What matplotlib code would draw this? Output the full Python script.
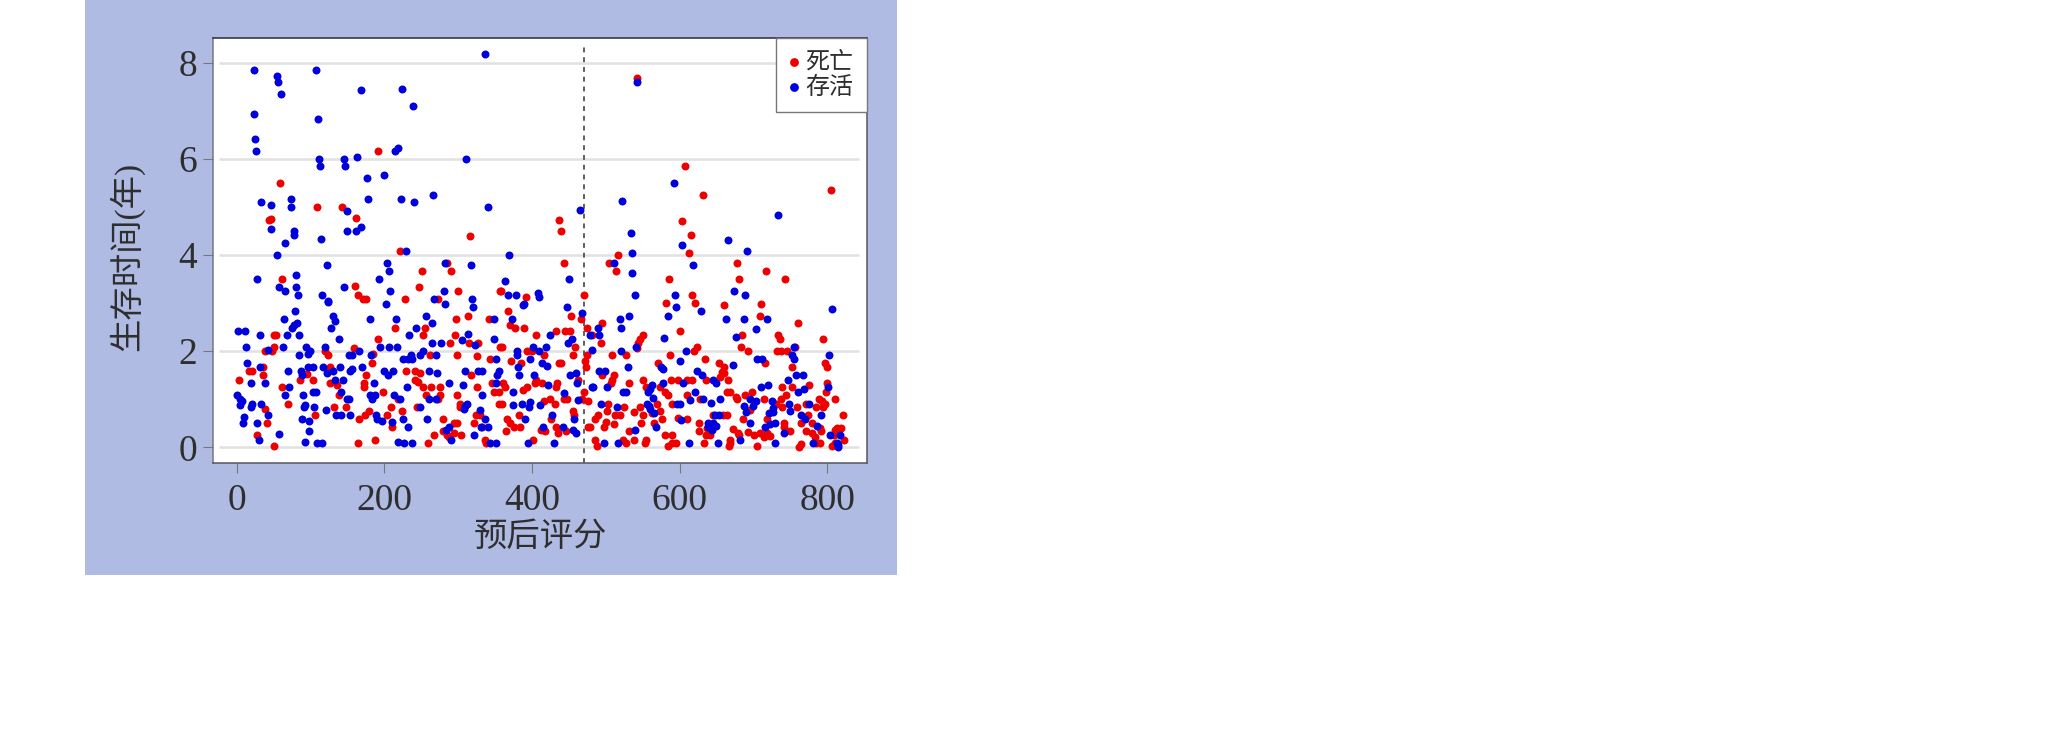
import matplotlib
matplotlib.use("Agg")
import matplotlib.pyplot as plt
from matplotlib.patches import Rectangle

plt.rcParams['font.family'] = ['Liberation Serif', 'Noto Sans CJK SC', 'DejaVu Sans']

W, H = 2056, 747

series_names = ['死亡', '存活']
x_label = '预后评分'
y_label = '生存时间(年)'
x_ticks = [0, 200, 400, 600, 800]
y_ticks = [0, 2, 4, 6, 8]
cutoff = 471

dead_points = [
(59,5.5),(109,5.0),(143,5.0),(44,4.73),(47,4.75),(162,4.76),(191,6.17),(316,4.4),(221,4.08),(285,3.83),(251,3.67),(291,3.67),
(61,3.5),(160,3.35),(247,3.33),(164,3.17),(171,3.09),(175,3.09),(228,3.09),(273,3.09),(300,3.25),(357,3.25),
(542,7.68),(607,5.84),(632,5.25),(805,5.34),(437,4.73),(439,4.5),(603,4.7),(615,4.41),(613,4.04),(516,4.0),(444,3.83),(504,3.83),
(514,3.67),(678,3.83),(717,3.67),(586,3.5),(681,3.5),(743,3.5),(358,3.25),(470,3.17),(617,3.17),(392,3.13),
(313,2.74),(297,2.66),(342,2.66),(215,2.49),(255,2.49),(51,2.33),(53,2.33),(252,2.33),(296,2.33),(191,2.25),(289,2.16),(315,2.16),(327,2.16),
(51,2.08),(48,2.0),(39,2.0),(120,2.0),(159,2.07),(357,2.08),(124,1.91),(185,1.95),(262,1.91),(299,1.91),(325,1.9),(343,1.83),(183,1.75),
(36,1.66),(127,1.66),(17,1.58),(21,1.58),(229,1.58),(242,1.58),(249,1.54),(95,1.53),(36,1.5),(175,1.5),(3,1.41),(86,1.41),(103,1.41),
(241,1.41),(245,1.36),(318,1.5),(126,1.33),(136,1.3),(173,1.33),(172,1.25),(346,1.33),(62,1.25),(253,1.25),(263,1.25),(276,1.25),(326,1.25),
(349,1.16),(355,1.16),(198,1.16),(138,1.08),(256,1.08),(276,1.08),(273,1.0),(298,1.08),(218,1.0),(70,0.91),(303,0.91),(302,0.83),(355,0.91),
(132,0.83),(148,0.83),(209,0.83),(244,0.83),(38,0.79),(179,0.75),(174,0.67),(224,0.75),(106,0.67),(203,0.67),(324,0.67),(330,0.67),(166,0.58),
(279,0.58),(41,0.5),(294,0.5),(299,0.5),(321,0.5),(210,0.42),(333,0.42),(28,0.25),(267,0.25),(280,0.33),(285,0.25),(288,0.21),(294,0.29),(304,0.25),
(187,0.16),(336,0.16),(338,0.08),(165,0.08),(259,0.08),(51,0.03),
(367,2.83),(581,3.01),(621,3.01),(660,2.96),(710,2.99),(453,2.74),(709,2.74),(467,2.66),(760,2.58),(495,2.58),(475,2.49),(370,2.54),(377,2.49),(389,2.49),
(600,2.41),(433,2.41),(445,2.41),(452,2.41),(406,2.33),(482,2.33),(550,2.33),(546,2.25),(544,2.16),(543,2.06),(684,2.33),(734,2.33),(736,2.25),(794,2.25),
(494,2.16),(359,2.08),(459,2.08),(623,2.08),(620,2.01),(683,2.08),(757,2.08),(393,2.0),(400,2.0),(693,2.0),(732,2.0),(737,2.0),(745,2.0),(417,1.91),
(456,1.91),(475,1.91),(508,1.91),(527,1.91),(587,1.91),(372,1.79),(634,1.83),(437,1.75),(440,1.75),(385,1.75),(472,1.79),(473,1.66),(571,1.75),(654,1.75),
(716,1.75),(797,1.75),(800,1.66),(752,1.66),(660,1.66),(657,1.57),(511,1.5),(508,1.41),(495,1.5),(660,1.54),(666,1.41),(655,1.47),(406,1.41),(404,1.33),(413,1.33),
(463,1.41),(550,1.41),(588,1.41),(598,1.41),(610,1.41),(617,1.41),(636,1.41),(361,1.33),(364,1.25),(507,1.33),(532,1.33),(434,1.33),(433,1.25),(800,1.33),
(776,1.29),(739,1.25),(753,1.25),(388,1.19),(393,1.25),(554,1.25),(574,1.25),(580,1.16),(584,1.08),(471,1.16),(610,1.08),(664,1.16),(669,1.16),(698,1.16),
(677,1.05),(678,1.0),(689,1.08),(799,1.16),(744,1.08),(737,1.0),(628,1.0),(714,1.0),(359,0.91),(416,0.97),(425,1.0),(431,0.91),(443,1.0),(447,1.0),(468,1.0),(476,0.97),
(503,0.91),(547,0.83),(570,0.91),(590,0.91),(789,1.0),(793,0.97),(811,1.0),(797,0.91),(771,0.91),(731,0.91),(759,0.83),(739,0.83),(785,0.83),(795,0.83),(696,0.78),
(525,0.83),(538,0.73),(502,0.75),(573,0.75),(563,0.71),(455,0.75),(457,0.67),(490,0.67),(486,0.58),(512,0.67),(519,0.67),(511,0.49),(551,0.67),(383,0.67),(646,0.67),
(659,0.67),(664,0.67),(774,0.67),(821,0.67),(366,0.58),(370,0.5),(376,0.42),(384,0.42),(426,0.58),(500,0.53),(497,0.42),(576,0.58),(598,0.6),(610,0.58),(686,0.58),
(719,0.58),(765,0.5),(779,0.5),(741,0.5),(742,0.42),(626,0.5),(548,0.5),(565,0.51),(476,0.42),(479,0.42),(433,0.42),(435,0.3),(412,0.36),(418,0.33),(446,0.33),(365,0.33),
(532,0.33),(626,0.33),(637,0.4),(636,0.26),(641,0.26),(672,0.39),(679,0.3),(681,0.26),(693,0.32),(701,0.26),(709,0.29),(714,0.21),(719,0.29),(723,0.24),(750,0.33),
(771,0.33),(780,0.29),(783,0.22),(792,0.33),(790,0.4),(811,0.36),(819,0.41),(813,0.4),(809,0.26),(823,0.15),(580,0.25),(590,0.25),(485,0.16),(488,0.03),(523,0.16),(527,0.08),
(538,0.16),(555,0.16),(553,0.08),(401,0.16),(585,0.03),(590,0.08),(595,0.08),(633,0.08),(669,0.16),(668,0.08),(667,0.02),(705,0.02),(764,0.06),(762,0),(785,0.08),(790,0.08),
(806,0.02),(811,0.08),
]

alive_points = [
(23,7.84),(54,7.71),(56,7.59),(60,7.34),(23,6.92),(25,6.42),(26,6.17),(108,7.84),(110,6.83),(169,7.42),(224,7.46),(239,7.09),(337,8.17),(112,6.0),(113,5.84),(145,6.0),
(147,5.84),(163,6.04),(177,5.59),(200,5.67),(214,6.17),(219,6.23),(311,6.0),(178,5.17),(223,5.17),(240,5.09),(266,5.25),(341,5.0),(33,5.09),(47,5.04),(73,5.17),(74,5.0),
(149,4.92),(46,4.53),(77,4.5),(78,4.41),(66,4.25),(114,4.33),(150,4.5),(161,4.5),(168,4.58),(230,4.08),(55,3.99),(123,3.79),(204,3.83),(207,3.67),(317,3.79),(282,3.83),
(28,3.5),(80,3.58),(193,3.5),(57,3.33),(66,3.25),(81,3.33),(83,3.17),(115,3.17),(146,3.33),(208,3.24),(281,3.25),(319,3.09),(268,3.09),(124,3.05),
(543,7.6),(465,4.93),(522,5.13),(592,5.5),(734,4.84),(534,4.46),(535,4.04),(604,4.2),(665,4.3),(691,4.08),(511,3.83),(536,3.62),(618,3.79),(369,4.0),(364,3.46),(450,3.5),
(674,3.25),(689,3.17),(539,3.17),(594,3.17),(368,3.17),(378,3.17),(408,3.21),(409,3.13),
(124,3.03),(202,2.99),(282,2.99),(320,2.91),(79,2.83),(130,2.74),(133,2.62),(64,2.66),(82,2.58),(77,2.54),(75,2.49),(128,2.49),(180,2.66),(216,2.66),(257,2.74),(264,2.58),
(243,2.49),(348,2.66),(2,2.41),(11,2.41),(31,2.33),(68,2.33),(84,2.33),(139,2.25),(234,2.33),(314,2.36),(305,2.24),(349,2.25),(265,2.16),(277,2.16),(13,2.08),(42,2.02),
(63,2.08),(94,2.08),(119,2.08),(194,2.08),(206,2.08),(217,2.08),(323,2.12),(99,2.01),(96,1.94),(84,1.91),(166,2.0),(156,1.91),(152,1.91),(182,1.91),(253,2.0),(248,1.91),
(270,1.91),(236,1.91),(226,1.83),(232,1.83),(238,1.83),(351,1.83),(14,1.75),(32,1.66),(117,1.66),(97,1.66),(103,1.66),(140,1.66),(170,1.66),(156,1.62),(153,1.58),(69,1.58),
(87,1.58),(131,1.58),(122,1.54),(200,1.58),(212,1.58),(205,1.5),(260,1.58),(272,1.54),(310,1.58),(327,1.58),(332,1.58),(355,1.58),(353,1.5),(88,1.5),(133,1.41),(144,1.41),
(19,1.33),(39,1.33),(186,1.34),(287,1.33),(352,1.33),(307,1.29),(71,1.25),(231,1.25),(104,1.16),(107,1.16),(141,1.16),(0.5,1.08),(65,1.08),(90,1.08),(181,1.08),(188,1.08),
(213,1.08),(333,1.08),(4,1.0),(7,0.96),(4,0.87),(21,0.91),(20,0.83),(33,0.91),(152,1.0),(150,1.0),(184,1.0),(221,1.0),(261,1.0),(270,1.0),(92,0.87),(91,0.83),(105,0.83),
(121,0.78),(248,0.83),(312,0.91),(310,0.86),(308,0.79),(329,0.78),(42,0.67),(135,0.67),(142,0.67),(154,0.67),(189,0.67),(10,0.64),(88,0.58),(98,0.55),(190,0.58),(197,0.55),
(225,0.58),(258,0.58),(336,0.58),(8,0.5),(27,0.5),(210,0.52),(232,0.42),(287,0.42),(283,0.35),(331,0.42),(340,0.42),(98,0.33),(58,0.28),(322,0.25),(30,0.16),(291,0.16),
(93,0.12),(109,0.08),(116,0.08),(218,0.12),(227,0.08),(238,0.08),(343,0.08),(351,0.08),
(806,2.87),(595,2.91),(388,2.96),(389,2.99),(448,2.91),(468,2.79),(531,2.74),(584,2.74),(629,2.83),(519,2.66),(663,2.66),(687,2.66),(718,2.66),(373,2.66),(521,2.49),(489,2.49),
(703,2.46),(425,2.33),(479,2.33),(491,2.33),(676,2.29),(579,2.27),(454,2.25),(449,2.16),(402,2.08),(541,2.08),(419,2.08),(410,2.0),(482,2.02),(521,2.0),(609,2.0),(755,2.08),
(380,2.0),(380,1.91),(803,1.91),(753,1.91),(755,1.83),(398,1.83),(705,1.83),(712,1.83),(601,1.79),(413,1.75),(420,1.7),(673,1.72),(381,1.66),(530,1.66),(575,1.68),(578,1.62),
(491,1.58),(499,1.58),(624,1.58),(460,1.54),(451,1.5),(630,1.5),(382,1.5),(403,1.5),(758,1.5),(767,1.5),(747,1.41),(646,1.41),(649,1.33),(461,1.33),(577,1.33),(605,1.33),
(563,1.3),(560,1.22),(557,1.16),(422,1.29),(481,1.26),(483,1.25),(502,1.25),(711,1.25),(720,1.29),(801,1.25),(375,1.16),(523,1.16),(528,1.16),(621,1.16),(768,1.21),(761,1.16),
(443,1.12),(564,1.02),(463,0.98),(614,0.98),(632,1.0),(655,1.0),(493,0.91),(386,0.91),(374,0.87),(397,0.94),(396,0.83),(411,0.87),(556,0.9),(559,0.86),(560,0.79),(597,0.91),
(600,0.91),(642,0.93),(696,1.0),(704,0.96),(700,0.85),(687,0.86),(690,0.74),(725,0.96),(727,0.82),(721,0.71),(727,0.73),(748,0.91),(749,0.76),(775,0.91),(515,0.83),(791,0.67),
(427,0.67),(565,0.71),(765,0.67),(391,0.58),(457,0.58),(602,0.57),(648,0.67),(653,0.67),(639,0.5),(646,0.5),(649,0.44),(644,0.36),(639,0.43),(696,0.5),(730,0.5),(716,0.42),
(723,0.49),(770,0.58),(415,0.42),(442,0.42),(456,0.37),(460,0.29),(568,0.42),(540,0.37),(742,0.29),(786,0.44),(804,0.26),(818,0.26),(682,0.16),(395,0.08),(430,0.08),(498,0.08),
(517,0.08),(613,0.08),(652,0.08),(730,0.08),(781,0.08),(813,0.08),(815,0.0),(815,0.05),
]

dead_x, dead_y = zip(*dead_points)
alive_x, alive_y = zip(*alive_points)

ink = '#2e2e2e'
fig = plt.figure(figsize=(W / 100, H / 100), dpi=100, facecolor='white')
fig.add_artist(Rectangle((85 / W, 1 - 575 / H), 812 / W, 575 / H, transform=fig.transFigure,
                         facecolor='#B0BBE3', edgecolor='none', zorder=-5))

ax = fig.add_axes([213 / W, 1 - 463 / H, 654 / W, 425 / H], facecolor='white')
ax.set_xlim(-32.1, 854)
ax.set_ylim(-0.326, 8.51)

ax.hlines(y_ticks, -24, 843, color='#e2e2e2', lw=1.9, zorder=1)
ax.vlines(cutoff, -0.326, 8.41, color='#333333', lw=1.1, linestyles=(0, (3.2, 3.2)), zorder=2)

ax.scatter(dead_x, dead_y, s=33, c='#ee0000', linewidths=0, label=series_names[0], zorder=3)
ax.scatter(alive_x, alive_y, s=33, c='#0000dd', linewidths=0, label=series_names[1], zorder=4)

ax.set_xticks(x_ticks)
ax.set_yticks(y_ticks)
ax.tick_params(axis='both', length=7.5, width=0.8, color='#777777', labelsize=27, labelcolor=ink, pad=4)
ax.tick_params(axis='x', pad=7)

ax.spines['top'].set_color('#2a2a3a')
ax.spines['bottom'].set_color('#555566')
ax.spines['left'].set_color('#777788')
ax.spines['right'].set_color('#555566')
for s in ax.spines.values():
    s.set_linewidth(1.1)

fig.text(540 / W, 1 - 538 / H, x_label, fontsize=24, color=ink, ha='center', va='center')
fig.text(127 / W, 1 - 256 / H, y_label, fontsize=24, color=ink, ha='center', va='center', rotation=90)

leg = ax.legend(loc='upper right', bbox_to_anchor=(1, 1), borderaxespad=0, fancybox=False, framealpha=1,
                edgecolor='#777777', fontsize=17.3, labelcolor=ink, handletextpad=0.25, borderpad=0.56,
                labelspacing=0.14, handlelength=0.42, markerscale=1.1)
leg.get_frame().set_linewidth(1.0)
leg.set_zorder(6)

fig.savefig('out.png', dpi=100)
